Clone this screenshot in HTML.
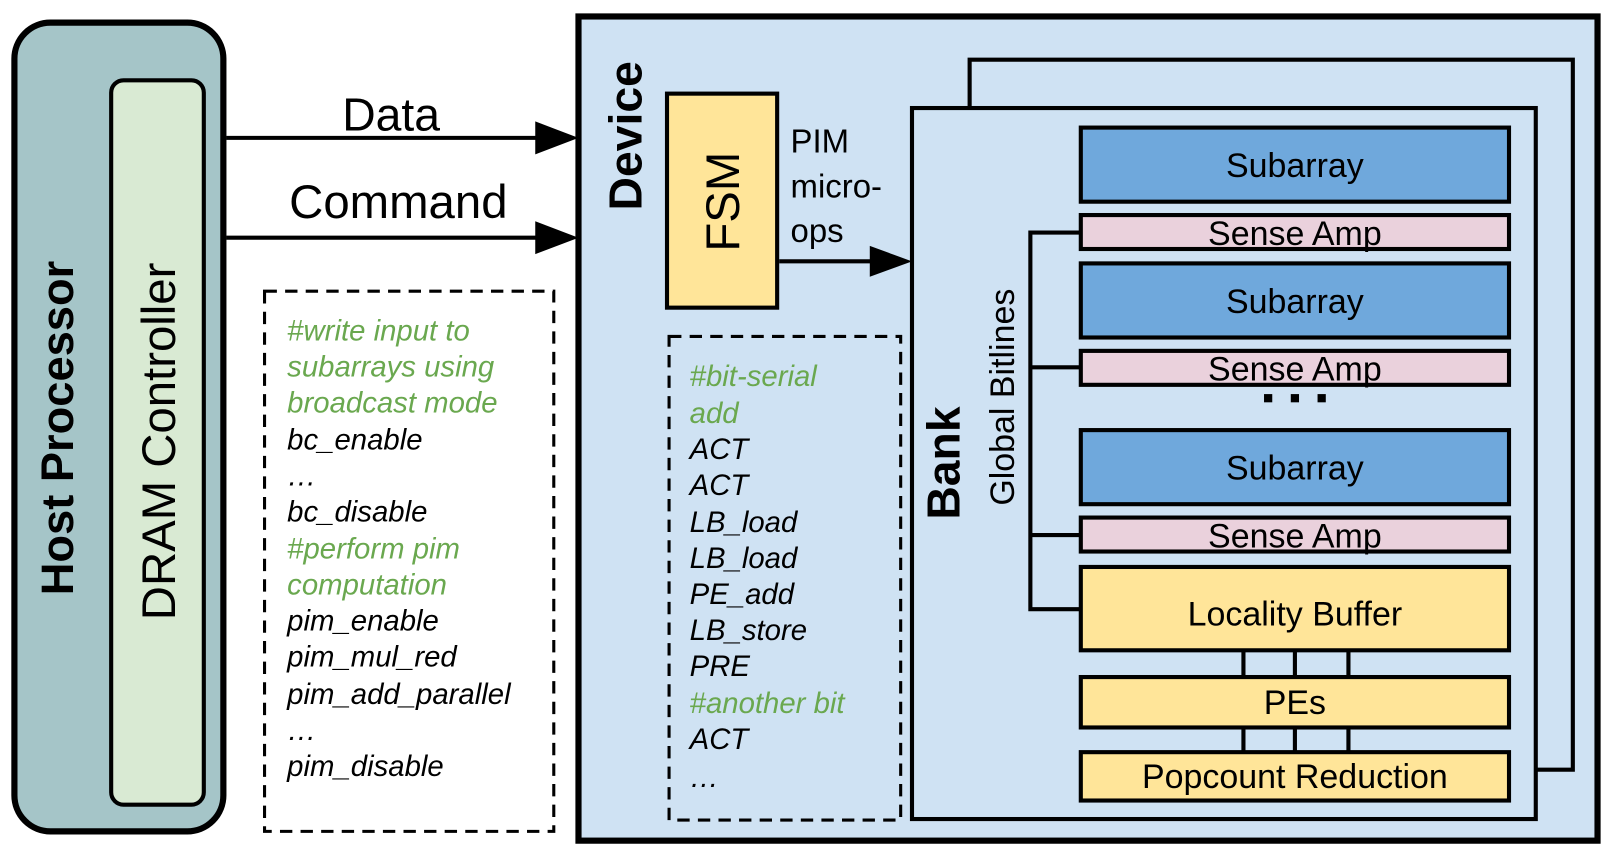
<!DOCTYPE html>
<html><head><meta charset="utf-8"><style>
html,body{margin:0;padding:0;background:#fff;}
svg{display:block;}
text{font-family:"Liberation Sans",Arial,sans-serif;}
.it{font-style:italic;font-size:28.5px;}
.g{fill:#6aa84f;}
</style></head><body>
<svg width="1614" height="853" viewBox="0 0 1568 829" preserveAspectRatio="none" xmlns="http://www.w3.org/2000/svg">
<rect x="14" y="22" width="203" height="786" rx="35" fill="#a5c5c8" stroke="#000" stroke-width="6"/>
<rect x="108" y="78" width="90" height="704" rx="12" fill="#d9ead3" stroke="#000" stroke-width="4"/>
<text transform="translate(71,416) rotate(-90)" text-anchor="middle" font-size="44" font-weight="bold">Host Processor</text>
<text transform="translate(170,429) rotate(-90)" text-anchor="middle" font-size="46">DRAM Controller</text>
<line x1="220" y1="134" x2="525" y2="134" stroke="#000" stroke-width="4"/>
<polygon points="520,118 562,134 520,150" fill="#000"/>
<text x="380" y="127" text-anchor="middle" font-size="45">Data</text>
<line x1="220" y1="231" x2="525" y2="231" stroke="#000" stroke-width="4"/>
<polygon points="520,215 562,231 520,247" fill="#000"/>
<text x="387" y="212" text-anchor="middle" font-size="46">Command</text>
<rect x="257" y="283" width="281" height="525" fill="#fff" stroke="#000" stroke-width="3" stroke-dasharray="12,8"/>
<g class="it">
<text x="279" y="331" class="g">#write input to</text>
<text x="279" y="366" class="g">subarrays using</text>
<text x="279" y="401" class="g">broadcast mode</text>
<text x="279" y="437">bc_enable</text>
<text x="279" y="472">…</text>
<text x="279" y="507">bc_disable</text>
<text x="279" y="543" class="g">#perform pim</text>
<text x="279" y="578" class="g">computation</text>
<text x="279" y="613">pim_enable</text>
<text x="279" y="648">pim_mul_red</text>
<text x="279" y="684">pim_add_parallel</text>
<text x="279" y="719">…</text>
<text x="279" y="754">pim_disable</text>
</g>
<rect x="562" y="16" width="990" height="801" fill="#cfe2f3" stroke="#000" stroke-width="6"/>
<text transform="translate(623,132) rotate(-90)" text-anchor="middle" font-size="45" font-weight="bold">Device</text>
<rect x="648" y="91" width="107" height="208" fill="#ffe599" stroke="#000" stroke-width="4"/>
<text transform="translate(718,196) rotate(-90)" text-anchor="middle" font-size="46">FSM</text>
<text x="768" y="148" font-size="32">PIM</text>
<text x="768" y="192" font-size="32">micro-</text>
<text x="768" y="235" font-size="32">ops</text>
<line x1="757" y1="254" x2="850" y2="254" stroke="#000" stroke-width="4"/>
<polygon points="845,239 886,254 845,269" fill="#000"/>
<rect x="650" y="327" width="225" height="470" fill="none" stroke="#000" stroke-width="3" stroke-dasharray="12,8"/>
<g class="it">
<text x="670" y="375" class="g">#bit-serial</text>
<text x="670" y="411" class="g">add</text>
<text x="670" y="446">ACT</text>
<text x="670" y="481">ACT</text>
<text x="670" y="517">LB_load</text>
<text x="670" y="552">LB_load</text>
<text x="670" y="587">PE_add</text>
<text x="670" y="622">LB_store</text>
<text x="670" y="657">PRE</text>
<text x="670" y="693" class="g">#another bit</text>
<text x="670" y="728">ACT</text>
<text x="670" y="765">…</text>
</g>
<polyline points="942,104 942,58 1528,58 1528,748 1493,748" fill="none" stroke="#000" stroke-width="4"/>
<rect x="886" y="105" width="606" height="691" fill="#cfe2f3" stroke="#000" stroke-width="4"/>
<text transform="translate(932,450) rotate(-90)" text-anchor="middle" font-size="45" font-weight="bold">Bank</text>
<text transform="translate(985,386) rotate(-90)" text-anchor="middle" font-size="33">Global Bitlines</text>
<polyline points="1050,226 1001,226 1001,592 1050,592" fill="none" stroke="#000" stroke-width="4"/>
<line x1="1001" y1="357" x2="1050" y2="357" stroke="#000" stroke-width="4"/>
<line x1="1001" y1="520" x2="1050" y2="520" stroke="#000" stroke-width="4"/>
<g stroke="#000" stroke-width="4">
<rect x="1050" y="124" width="416" height="72" fill="#6fa8dc"/>
<rect x="1050" y="256" width="416" height="72" fill="#6fa8dc"/>
<rect x="1050" y="418" width="416" height="72" fill="#6fa8dc"/>
<rect x="1050" y="209" width="416" height="33" fill="#ead1dc"/>
<rect x="1050" y="341" width="416" height="33" fill="#ead1dc"/>
<rect x="1050" y="503" width="416" height="33" fill="#ead1dc"/>
<rect x="1050" y="551" width="416" height="81" fill="#ffe599"/>
<rect x="1050" y="658" width="416" height="49" fill="#ffe599"/>
<rect x="1050" y="731" width="416" height="47" fill="#ffe599"/>
<line x1="1208" y1="632" x2="1208" y2="658"/><line x1="1258" y1="632" x2="1258" y2="658"/><line x1="1310" y1="632" x2="1310" y2="658"/>
<line x1="1208" y1="707" x2="1208" y2="731"/><line x1="1258" y1="707" x2="1258" y2="731"/><line x1="1310" y1="707" x2="1310" y2="731"/>
</g>
<rect x="1228" y="383" width="8" height="8"/><rect x="1254" y="383" width="8" height="8"/><rect x="1280" y="383" width="8" height="8"/>
<g font-size="33" text-anchor="middle">
<text x="1258" y="172">Subarray</text>
<text x="1258" y="304">Subarray</text>
<text x="1258" y="466">Subarray</text>
<text x="1258" y="238">Sense Amp</text>
<text x="1258" y="370">Sense Amp</text>
<text x="1258" y="532">Sense Amp</text>
<text x="1258" y="608">Locality Buffer</text>
<text x="1258" y="694">PEs</text>
<text x="1258" y="766">Popcount Reduction</text>
</g>
</svg>
</body></html>
